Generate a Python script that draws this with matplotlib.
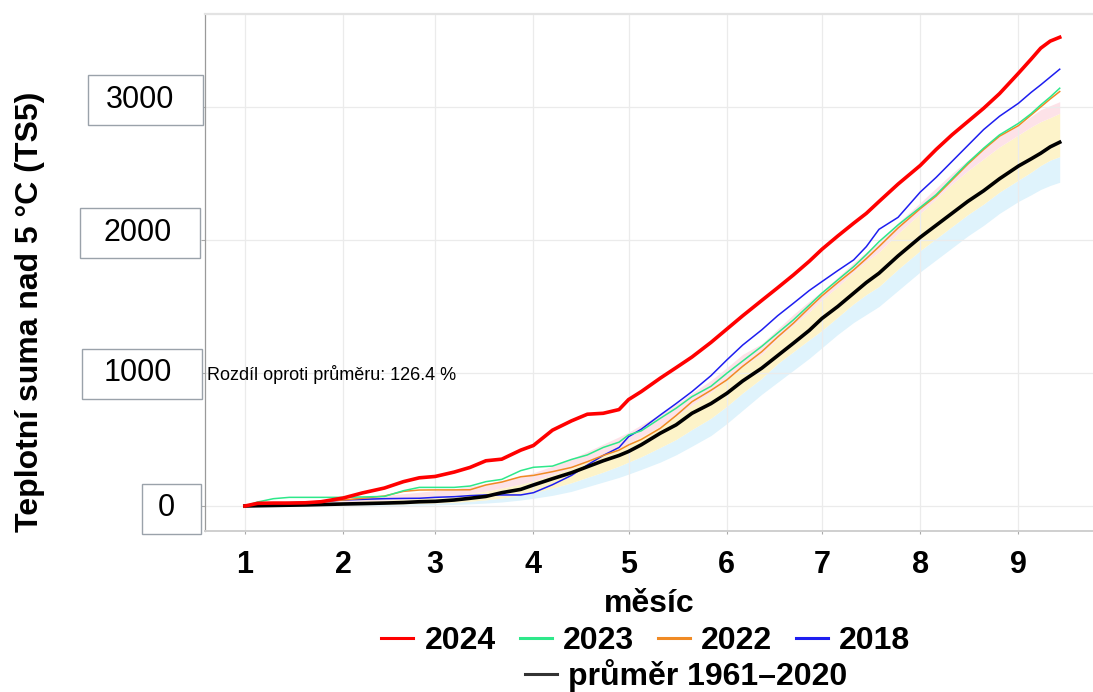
import matplotlib
matplotlib.use('Agg')
import matplotlib.pyplot as plt
from matplotlib.lines import Line2D
from matplotlib.patches import Rectangle
import matplotlib.transforms as mtransforms

plt.rcParams['font.family'] = ['Liberation Sans', 'DejaVu Sans']

# ---------------- data (day of year) ----------------
days = [1, 5, 10, 15, 20, 25, 32, 38, 45, 51, 56, 61, 67, 72, 77, 82, 88, 92, 98, 104,
        109, 114, 119, 122, 126, 132, 137, 142, 148, 153, 158, 164, 169, 174, 179, 183,
        188, 193, 197, 201, 207, 214, 219, 224, 229, 234, 239, 245, 249, 252, 255, 258]

y2024 = [0, 20, 22, 22, 24, 32, 60, 98, 135, 183, 212, 222, 255, 290, 340, 352, 420, 455, 570, 640,
         690, 697, 725, 800, 860, 961, 1040, 1120, 1230, 1330, 1430, 1545, 1640, 1737, 1840, 1930,
         2030, 2126, 2200, 2289, 2420, 2560, 2680, 2790, 2890, 2990, 3100, 3254, 3360, 3442, 3495, 3524]

y2023 = [0, 30, 55, 65, 65, 65, 65, 68, 72, 115, 140, 140, 140, 150, 183, 200, 266, 291, 300, 350,
         384, 440, 480, 534, 565, 659, 735, 822, 900, 998, 1090, 1200, 1300, 1399, 1510, 1600,
         1700, 1799, 1890, 1987, 2113, 2245, 2340, 2460, 2580, 2690, 2790, 2877, 2950, 3015, 3075, 3141]

y2022 = [0, 20, 22, 25, 28, 35, 45, 58, 75, 110, 120, 121, 121, 122, 158, 180, 220, 230, 258, 290,
         333, 380, 420, 459, 500, 584, 680, 784, 870, 948, 1050, 1160, 1270, 1374, 1490, 1580,
         1680, 1775, 1860, 1950, 2090, 2235, 2330, 2450, 2570, 2680, 2780, 2860, 2940, 3000, 3060, 3116]

y2018 = [0, 15, 22, 25, 28, 32, 45, 50, 55, 57, 58, 65, 70, 78, 83, 83, 83, 100, 160, 230,
         308, 380, 440, 521, 577, 684, 770, 860, 980, 1098, 1210, 1324, 1430, 1524, 1620, 1687,
         1770, 1850, 1950, 2080, 2170, 2360, 2470, 2590, 2710, 2830, 2930, 3028, 3110, 3166, 3225, 3284]

mean = [0, 2, 4, 6, 8, 11, 15, 18, 22, 26, 32, 35, 45, 58, 72, 100, 125, 158, 205, 250,
        295, 340, 380, 410, 460, 547, 610, 697, 770, 847, 940, 1036, 1130, 1224, 1320, 1410,
        1500, 1600, 1680, 1750, 1880, 2020, 2110, 2200, 2290, 2370, 2460, 2556, 2610, 2652, 2700, 2735]

band_blue_lo = [0, 0, 0, 0, 0, 1, 2, 3, 4, 5, 7, 9, 12, 16, 22, 30, 45, 58, 80, 110,
                145, 180, 215, 240, 275, 330, 385, 450, 530, 620, 720, 840, 930, 1020, 1110, 1190,
                1290, 1380, 1440, 1500, 1620, 1760, 1850, 1940, 2030, 2110, 2200, 2290, 2340, 2380, 2410, 2434]

band_yel_lo = [0, 1, 2, 3, 4, 6, 8, 10, 12, 15, 19, 22, 28, 36, 46, 60, 82, 100, 135, 175,
               215, 255, 300, 330, 370, 440, 500, 575, 660, 750, 850, 960, 1070, 1160, 1250, 1320,
               1420, 1520, 1590, 1650, 1780, 1920, 2010, 2100, 2190, 2270, 2360, 2450, 2510, 2560, 2600, 2627]

band_yel_hi = [0, 6, 10, 14, 18, 24, 32, 38, 45, 52, 60, 68, 80, 95, 112, 135, 165, 190, 235, 285,
               335, 385, 435, 470, 520, 600, 675, 760, 855, 950, 1050, 1140, 1260, 1360, 1460, 1550,
               1650, 1760, 1840, 1910, 2050, 2200, 2310, 2420, 2520, 2610, 2700, 2790, 2850, 2890, 2920, 2953]

band_pink_hi = [0, 12, 20, 28, 36, 45, 58, 68, 80, 92, 104, 115, 130, 148, 168, 192, 225, 250, 300, 355,
                410, 465, 520, 555, 610, 690, 765, 850, 945, 1040, 1140, 1220, 1330, 1440, 1540, 1615,
                1720, 1830, 1910, 1980, 2130, 2280, 2390, 2500, 2600, 2690, 2780, 2860, 2930, 2980, 3010, 3040]

month_starts = [1, 32, 61, 92, 122, 153, 183, 214, 245]
month_labels = ['1', '2', '3', '4', '5', '6', '7', '8', '9']
y_grid = [0, 1000, 2000, 3000]
y_tick_labels = ['0', '1000', '2000', '3000']

series_names = ['2024', '2023', '2022', '2018']
series_colors = ['#ff0000', '#2ee88a', '#f08a24', '#1e1ef0']
mean_label = 'průměr 1961–2020'
note_text = 'Rozdíl oproti průměru: 126.4 %'
xlabel = 'měsíc'
ylabel = 'Teplotní suma nad 5 °C (TS5)'

# ---------------- figure ----------------
W, H = 1093, 692
fig = plt.figure(figsize=(W / 100, H / 100), dpi=100)

def fx(px):
    return px / W

def fy(py):
    return 1 - py / H

ax = fig.add_axes([fx(205), fy(531), fx(1093) - fx(205), fy(14) - fy(531)])
ax.set_xlim(-11.6, 268.5)
ax.set_ylim(-188, 3699)

# bands
ax.fill_between(days, band_blue_lo, band_yel_lo, color='#dff3fc', lw=0, zorder=1)
ax.fill_between(days, band_yel_lo, band_yel_hi, color='#fdf3c9', lw=0, zorder=1)
ax.fill_between(days, band_yel_hi, band_pink_hi, color='#fde2e8', lw=0, zorder=1)

# lines
ax.plot(days, y2018, color=series_colors[3], lw=1.1, zorder=3)
ax.plot(days, y2022, color=series_colors[2], lw=1.1, zorder=3)
ax.plot(days, y2023, color=series_colors[1], lw=1.1, zorder=3)
ax.plot(days, mean, color='black', lw=2.6, zorder=4)
ax.plot(days, y2024, color=series_colors[0], lw=2.6, zorder=5)

# grid / axes styling
ax.set_xticks(month_starts)
ax.set_xticklabels(month_labels, fontsize=22, fontweight='bold')
ax.set_yticks(y_grid)
ax.set_yticklabels([])
ax.grid(True, color='#ebebeb', lw=0.9, zorder=0)
ax.tick_params(axis='x', length=2, color='#aaaaaa', pad=12)
ax.tick_params(axis='y', length=3, color='#aaaaaa')
for side in ['right']:
    ax.spines[side].set_visible(False)
ax.spines['top'].set_color('#e3e3e3')
ax.spines['top'].set_linewidth(1.6)
ax.spines['left'].set_color('#9a9a9a')
ax.spines['left'].set_linewidth(0.9)
ax.spines['bottom'].set_color('#cfcfcf')
ax.spines['bottom'].set_linewidth(1.4)

ax.set_xlabel(xlabel, fontsize=23, fontweight='bold', labelpad=6)

# annotation
trans = mtransforms.blended_transform_factory(ax.transAxes, ax.transData)
ax.text(0.002, 985, note_text, transform=trans, fontsize=13, ha='left', va='center', zorder=6)

# y label
fig.text(fx(30), fy(312), ylabel, rotation=90, fontsize=23, fontweight='bold',
         ha='center', va='center')

# boxed y tick labels (layout positions in pixels)
box_layout = [  # (x0, y0, x1, y1, text_cx, text_cy)
    (142, 484, 201, 534, 166, 508),
    (82, 349, 202, 399, 138, 373),
    (80, 208, 200, 258, 138, 233),
    (88, 75, 203, 125, 140, 100),
]
for lab, (x0, y0, x1, y1, cx, cy) in zip(y_tick_labels, box_layout):
    fig.patches.append(Rectangle((fx(x0), fy(y1)), fx(x1) - fx(x0), fy(y0) - fy(y1),
                                 transform=fig.transFigure, facecolor='white',
                                 edgecolor='#9aa2aa', lw=1.0))
    fig.text(fx(cx), fy(cy), lab, fontsize=22, ha='center', va='center')

# legends
handles = [Line2D([], [], color=c, lw=2.2) for c in series_colors]
leg1 = fig.legend(handles, series_names, loc='center', bbox_to_anchor=(fx(646), fy(641)),
                  ncol=4, frameon=False, handlelength=1.0, handletextpad=0.35,
                  columnspacing=0.75, prop={'size': 23, 'weight': 'bold'})
leg2 = fig.legend([Line2D([], [], color='#333333', lw=2.2)], [mean_label], loc='center',
                  bbox_to_anchor=(fx(686), fy(676)), frameon=False, handlelength=1.0,
                  handletextpad=0.35, prop={'size': 23, 'weight': 'bold'})

fig.savefig('out.png', dpi=100)
